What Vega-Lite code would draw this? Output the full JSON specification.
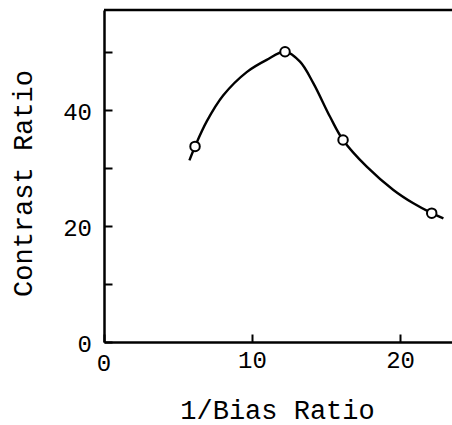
{
  "$schema": "https://vega.github.io/schema/vega-lite/v6.json",
  "autosize": "none",
  "width": 348,
  "height": 332,
  "padding": {"left": 104, "top": 10, "right": 0, "bottom": 83},
  "background": "white",
  "config": {
    "view": {"stroke": null},
    "font": "Liberation Mono",
    "axis": {
      "domainColor": "black",
      "domainWidth": 2.5,
      "tickColor": "black",
      "tickWidth": 2,
      "labelColor": "black",
      "titleColor": "black",
      "labelFont": "Liberation Mono",
      "titleFont": "Liberation Mono",
      "labelFontSize": 24,
      "titleFontSize": 27,
      "labelFontWeight": "normal",
      "titleFontWeight": "normal",
      "grid": false
    }
  },
  "datasets": {
    "points": [
      {"x": 6.15, "y": 33.7},
      {"x": 12.23, "y": 50.0},
      {"x": 16.15, "y": 34.8},
      {"x": 22.14, "y": 22.2}
    ],
    "curve": [
      {"x": 5.77, "y": 31.3},
      {"x": 6.15, "y": 33.7},
      {"x": 6.94, "y": 38.0},
      {"x": 8.06, "y": 42.5},
      {"x": 9.64, "y": 46.5},
      {"x": 10.99, "y": 48.6},
      {"x": 12.23, "y": 50.0},
      {"x": 13.24, "y": 48.3},
      {"x": 14.14, "y": 44.6},
      {"x": 15.27, "y": 38.8},
      {"x": 16.15, "y": 34.8},
      {"x": 17.75, "y": 30.2},
      {"x": 19.55, "y": 26.2},
      {"x": 20.9, "y": 23.9},
      {"x": 22.14, "y": 22.2},
      {"x": 22.93, "y": 21.3}
    ],
    "ylabels": [
      {"v": 0},
      {"v": 20},
      {"v": 40}
    ]
  },
  "layer": [
    {
      "data": {"name": "curve"},
      "mark": {"type": "line", "interpolate": "catmull-rom", "color": "black", "strokeWidth": 2.4},
      "encoding": {
        "x": {
          "field": "x", "type": "quantitative",
          "scale": {"domain": [0, 23.51], "nice": false, "zero": false},
          "axis": {
            "title": "1/Bias Ratio",
            "values": [0, 10, 20],
            "tickSize": -8,
            "labelPadding": 14,
            "titleX": 173, "titleY": 68,
            "titleAlign": "center", "titleBaseline": "middle",
            "labelExpr": "datum.value == 0 ? '' : datum.label"
          }
        },
        "y": {
          "field": "y", "type": "quantitative",
          "scale": {"domain": [0, 57.2], "nice": false, "zero": false},
          "axis": {
            "title": "Contrast Ratio",
            "values": [0, 10, 20, 30, 40, 50],
            "tickSize": -8,
            "labels": false,
            "titleX": -81, "titleY": 173,
            "titleAngle": -90,
            "titleAlign": "center", "titleBaseline": "middle"
          }
        }
      }
    },
    {
      "data": {"name": "points"},
      "mark": {"type": "point", "shape": "circle", "filled": true, "fill": "white", "stroke": "black", "strokeWidth": 2, "size": 90, "opacity": 1},
      "encoding": {
        "x": {"field": "x", "type": "quantitative"},
        "y": {"field": "y", "type": "quantitative"}
      }
    },
    {
      "data": {"values": [{"v": 0}]},
      "mark": {"type": "text", "fontSize": 24, "font": "Liberation Mono", "color": "black", "baseline": "middle", "align": "center", "dy": 22},
      "encoding": {
        "x": {"field": "v", "type": "quantitative"},
        "y": {"datum": 0},
        "text": {"field": "v", "type": "quantitative"}
      }
    },
    {
      "data": {"name": "ylabels"},
      "mark": {"type": "text", "fontSize": 24, "font": "Liberation Mono", "color": "black", "baseline": "middle", "align": "right", "dx": -12, "dy": 3},
      "encoding": {
        "x": {"datum": 0},
        "y": {"field": "v", "type": "quantitative"},
        "text": {"field": "v", "type": "quantitative"}
      }
    },
    {
      "data": {"values": [{"v": 57.2}]},
      "mark": {"type": "rule", "color": "black", "strokeWidth": 2.5},
      "encoding": {
        "y": {"field": "v", "type": "quantitative"}
      }
    }
  ]
}
